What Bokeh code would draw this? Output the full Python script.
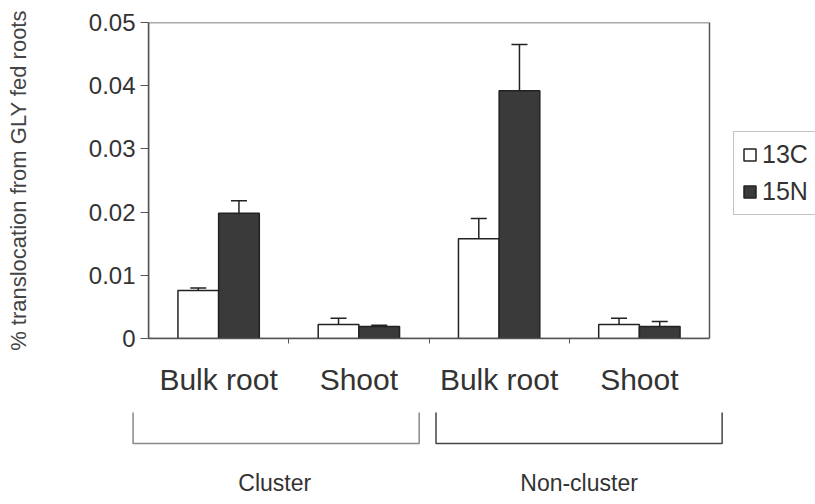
import numpy as np
from bokeh.plotting import figure
from bokeh.models import (ColumnDataSource, Range1d, FixedTicker, Whisker, TeeHead,
                          Legend, LegendItem, BoxAnnotation)
from bokeh.embed import file_html
from bokeh.resources import INLINE
from bokeh.core.properties import value

# ---------------- data ----------------
groups = ["Cluster", "Non-cluster"]
categories = ["Bulk root", "Shoot", "Bulk root", "Shoot"]
series = ["13C", "15N"]
c13 = [0.0076, 0.0022, 0.0158, 0.0022]
c13_err = [0.0004, 0.0010, 0.0032, 0.0010]
n15 = [0.0198, 0.0019, 0.0392, 0.0019]
n15_err = [0.0020, 0.0002, 0.0073, 0.0008]
y_ticks = [0, 0.01, 0.02, 0.03, 0.04, 0.05]
y_tick_labels = ["0", "0.01", "0.02", "0.03", "0.04", "0.05"]
y_title = "% translocation from GLY fed roots"

# ---------------- style / layout ----------------
FONT = "Liberation Sans"
W = 815
LEFT, TOP = 148, 22
BOX_W = 561            # width of the boxed plot area in pixels
H1, BOTTOM1 = 406, 68
H2 = 98
AX = "#555555"
INK = "#222222"
TXT = "#333333"

n = len(categories)
ymax = y_ticks[-1]
centers = np.arange(n) + 0.5
boundaries = np.arange(1, n)
dx, bw = 0.145, 0.29
x_end = n * (W - LEFT) / BOX_W   # frame runs to the page edge; box covers 0..n

p = figure(width=W, height=H1, x_range=Range1d(0, x_end), y_range=Range1d(0, ymax),
           output_backend="svg", toolbar_location=None,
           min_border_left=LEFT, min_border_right=0,
           min_border_top=TOP, min_border_bottom=BOTTOM1)
p.xgrid.visible = False
p.ygrid.visible = False
p.outline_line_color = None
p.background_fill_color = "white"
p.border_fill_color = "white"

p.add_layout(BoxAnnotation(left=0, right=n, bottom=0, top=ymax,
                           fill_color=None, fill_alpha=0,
                           line_color=AX, line_alpha=1.0, line_width=1.5,
                           level="underlay"))

src13 = ColumnDataSource(dict(x=centers - dx, top=c13,
                              upper=np.array(c13) + np.array(c13_err)))
src15 = ColumnDataSource(dict(x=centers + dx, top=n15,
                              upper=np.array(n15) + np.array(n15_err)))

r13 = p.vbar(x="x", top="top", width=bw, source=src13,
             fill_color="white", line_color=INK, line_width=1.5)
r15 = p.vbar(x="x", top="top", width=bw, source=src15,
             fill_color="#3a3a3a", line_color=INK, line_width=1.5)

for src in (src13, src15):
    w = Whisker(base="x", upper="upper", lower="top", source=src,
                upper_head=TeeHead(size=16, line_color=INK, line_width=1.5),
                lower_head=None, line_color=INK, line_width=1.5, level="overlay")
    p.add_layout(w)

legend = Legend(items=[LegendItem(label=value(series[0]), renderers=[r13]),
                       LegendItem(label=value(series[1]), renderers=[r15])],
                location=(585, 123))
legend.border_line_color = "#888888"
legend.border_line_width = 1.5
legend.background_fill_color = "white"
legend.background_fill_alpha = 1.0
legend.label_text_font = FONT
legend.label_text_font_size = "25px"
legend.label_text_color = TXT
legend.glyph_width = 15
legend.glyph_height = 15
legend.spacing = 8
legend.padding = 8
legend.label_standoff = 5
legend.margin = 0
p.add_layout(legend)

# x axis
p.xaxis.bounds = (0, n)
p.xaxis.ticker = FixedTicker(ticks=list(centers), minor_ticks=list(boundaries))
p.xaxis.major_label_overrides = {float(c): lab for c, lab in zip(centers, categories)}
p.xaxis.major_tick_line_color = None
p.xaxis.major_tick_out = 0
p.xaxis.major_tick_in = 0
p.xaxis.minor_tick_line_color = AX
p.xaxis.minor_tick_out = 5
p.xaxis.minor_tick_in = 0
p.xaxis.axis_line_color = AX
p.xaxis.axis_line_width = 1.5
p.xaxis.major_label_text_font = FONT
p.xaxis.major_label_text_font_size = "30px"
p.xaxis.major_label_text_color = TXT
p.xaxis.major_label_standoff = 19

# y axis
p.yaxis.ticker = FixedTicker(ticks=y_ticks)
p.yaxis.major_label_overrides = {t: lab for t, lab in zip(y_ticks, y_tick_labels)}
p.yaxis.major_tick_out = 8
p.yaxis.major_tick_in = 0
p.yaxis.major_tick_line_color = AX
p.yaxis.minor_tick_line_color = None
p.yaxis.axis_line_color = AX
p.yaxis.axis_line_width = 1.5
p.yaxis.major_label_text_font = FONT
p.yaxis.major_label_text_font_size = "24px"
p.yaxis.major_label_text_color = TXT
p.yaxis.major_label_standoff = 5
p.yaxis.axis_label = y_title
p.yaxis.axis_label_text_font = FONT
p.yaxis.axis_label_text_font_size = "22px"
p.yaxis.axis_label_text_font_style = "normal"
p.yaxis.axis_label_text_color = "#444444"
p.yaxis.axis_label_standoff = 55

# ---------------- group brackets (second root, same x scale) ----------------
scale = BOX_W / n
p2 = figure(width=W, height=H2,
            x_range=Range1d(-LEFT / scale, (W - LEFT) / scale), y_range=Range1d(H2, 0),
            output_backend="svg", toolbar_location=None, min_border=0,
            min_border_left=0, min_border_right=0, min_border_top=0, min_border_bottom=0,
            x_axis_location=None, y_axis_location=None)
p2.grid.visible = False
p2.outline_line_color = None
p2.background_fill_color = "white"
p2.border_fill_color = "white"

per_group = n // len(groups)
gi = np.arange(len(groups))
bracket_left_adj = np.array([-0.11, 0.05])
bracket_right_adj = np.array([-0.07, 0.09])
label_adj = np.array([-0.1, 0.07])
b_left = gi * per_group + bracket_left_adj
b_right = (gi + 1) * per_group + bracket_right_adj
b_top, b_bot = 6, 37
xs = [[l, l, r, r] for l, r in zip(b_left, b_right)]
ys = [[b_top, b_bot, b_bot, b_top] for _ in groups]
p2.multi_line(xs=xs, ys=ys, line_color=["#888888", "#444444"], line_width=1.5)
p2.text(x=gi * per_group + per_group / 2 + label_adj, y=[76] * len(groups), text=groups,
        text_font=value(FONT), text_font_size="23px", text_align="center",
        text_baseline="middle", text_color=TXT)

open("out.html", "w").write(file_html([p, p2], INLINE))
